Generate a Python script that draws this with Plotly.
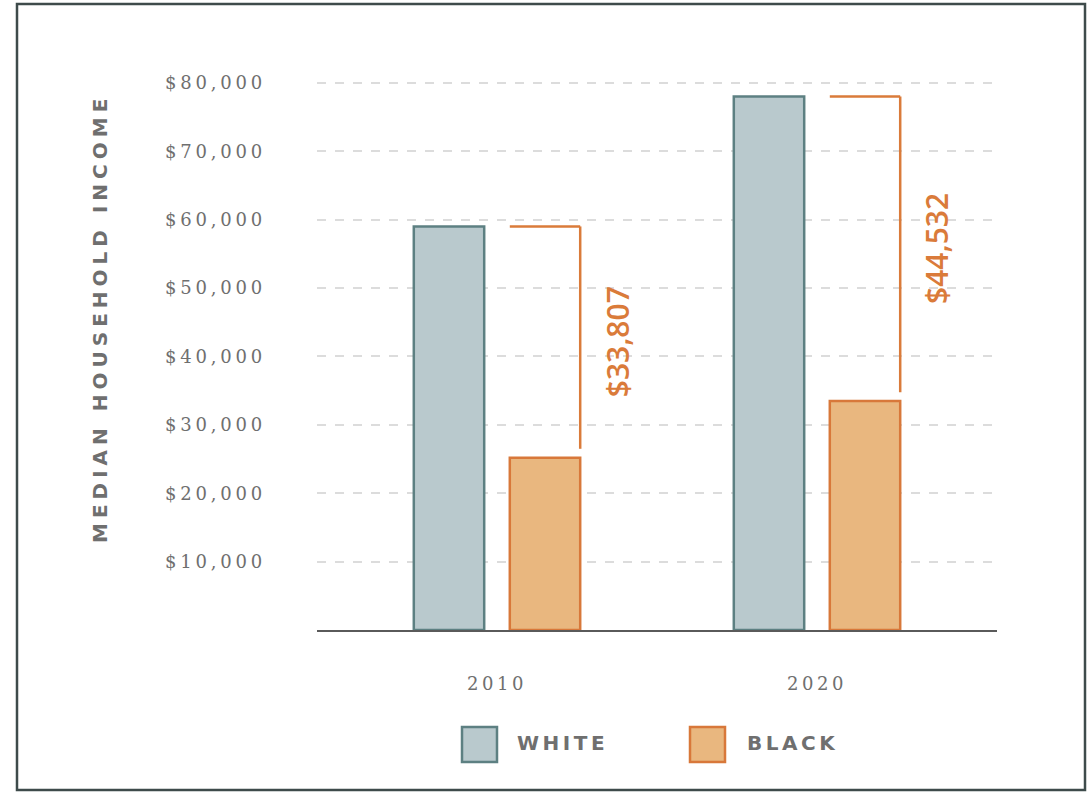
import plotly.graph_objects as go

# ---------------- data ----------------
years = ["2010", "2020"]
white_income = [59000, 78000]
black_income = [25193, 33468]
gap_labels = ["$33,807", "$44,532"]
y_tick_values = [10000, 20000, 30000, 40000, 50000, 60000, 70000, 80000]
y_tick_labels = ["$10,000", "$20,000", "$30,000", "$40,000", "$50,000", "$60,000", "$70,000", "$80,000"]
legend_names = ["WHITE", "BLACK"]

# ---------------- style ----------------
W, H = 1089, 793
WHITE_FILL, WHITE_LINE = "#b9c9cd", "#5d8082"
BLACK_FILL, BLACK_LINE = "#e9b77f", "#d8783a"
ORANGE = "#da7b3a"
GRAY_TXT = "#6f6f6f"
SERIF = "DejaVu Serif"
SANS = "DejaVu Sans"

bar_w = 0.22
white_off = -0.26
black_off = 0.04


def spaced(t, px):
    return f'<span style="letter-spacing:{px}px">{t}</span>'


fig = go.Figure()
fig.add_trace(go.Bar(
    x=years, y=white_income, name=legend_names[0], width=bar_w, offset=white_off,
    marker=dict(color=WHITE_FILL, line=dict(color=WHITE_LINE, width=2.5)),
    showlegend=False,
))
fig.add_trace(go.Bar(
    x=years, y=black_income, name=legend_names[1], width=bar_w, offset=black_off,
    marker=dict(color=BLACK_FILL, line=dict(color=BLACK_LINE, width=2.5)),
    showlegend=False,
))

shapes = []
annotations = []
# gap brackets from data
for i in range(len(years)):
    x_left = i + black_off
    x_right = i + black_off + bar_w
    top = white_income[i]
    bottom = black_income[i] + 1300
    shapes.append(dict(type="line", xref="x", yref="y", x0=x_left, x1=x_right, y0=top, y1=top,
                       line=dict(color=ORANGE, width=2.5)))
    shapes.append(dict(type="line", xref="x", yref="y", x0=x_right, x1=x_right, y0=top, y1=bottom,
                       line=dict(color=ORANGE, width=2.5)))
    annotations.append(dict(
        x=x_right, y=(white_income[i] + black_income[i]) / 2, xref="x", yref="y",
        text=gap_labels[i], textangle=-90, showarrow=False, xshift=37,
        font=dict(family="Open Sans", size=30, color=ORANGE, weight=600),
    ))

# outer frame
shapes.append(dict(type="rect", xref="paper", yref="paper",
                   x0=17 / W, x1=1085 / W, y0=1 - 790 / H, y1=1 - 4 / H,
                   line=dict(color="#3e4b4b", width=2.5)))

# legend (custom, large swatches)
leg_items = [(legend_names[0], WHITE_FILL, WHITE_LINE, 462, 515),
             (legend_names[1], BLACK_FILL, BLACK_LINE, 690, 745)]
for name, fill, line, sx, tx in leg_items:
    shapes.append(dict(type="rect", xref="paper", yref="paper",
                       x0=sx / W, x1=(sx + 35) / W, y0=1 - 762 / H, y1=1 - 727 / H,
                       fillcolor=fill, line=dict(color=line, width=2.5)))
    annotations.append(dict(x=tx / W, y=1 - 743 / H, xref="paper", yref="paper",
                            xanchor="left", yanchor="middle", showarrow=False,
                            text=spaced(name, 3.5),
                            font=dict(family=SANS, size=20, color=GRAY_TXT, weight=600)))

# y-axis title
annotations.append(dict(x=100 / W, y=1 - 318 / H, xref="paper", yref="paper",
                        text=spaced("MEDIAN HOUSEHOLD INCOME", 5), textangle=-90,
                        showarrow=False, xanchor="center", yanchor="middle",
                        font=dict(family=SANS, size=20, color=GRAY_TXT, weight=600)))

y_bottom_px, px_per_10k = 630, 68.4
y_max = 82000
y_top_px = y_bottom_px - y_max / 10000 * px_per_10k

fig.update_layout(
    width=W, height=H,
    margin=dict(l=0, r=0, t=0, b=0),
    paper_bgcolor="white", plot_bgcolor="white",
    barmode="overlay",
    shapes=shapes, annotations=annotations,
    xaxis=dict(
        type="category", domain=[317 / W, 997 / W], range=[-0.5625, 1.5625],
        showline=True, linecolor="#5a5a5a", linewidth=2, showgrid=False,
        tickvals=years, ticktext=[spaced(y, 3.5) for y in years],
        tickfont=dict(family=SERIF, size=18, color=GRAY_TXT),
        ticklabelstandoff=36, automargin=False,
    ),
    yaxis=dict(
        domain=[1 - y_bottom_px / H, 1 - y_top_px / H], range=[0, y_max],
        showline=False, zeroline=False,
        showgrid=True, gridcolor="#dcdcdc", gridwidth=1.5, griddash="dash",
        tickvals=y_tick_values, ticktext=[spaced(t, 3.8) for t in y_tick_labels],
        tickfont=dict(family=SERIF, size=18, color=GRAY_TXT),
        ticklabelstandoff=50, automargin=False,
    ),
)

fig.write_html("out.html")
